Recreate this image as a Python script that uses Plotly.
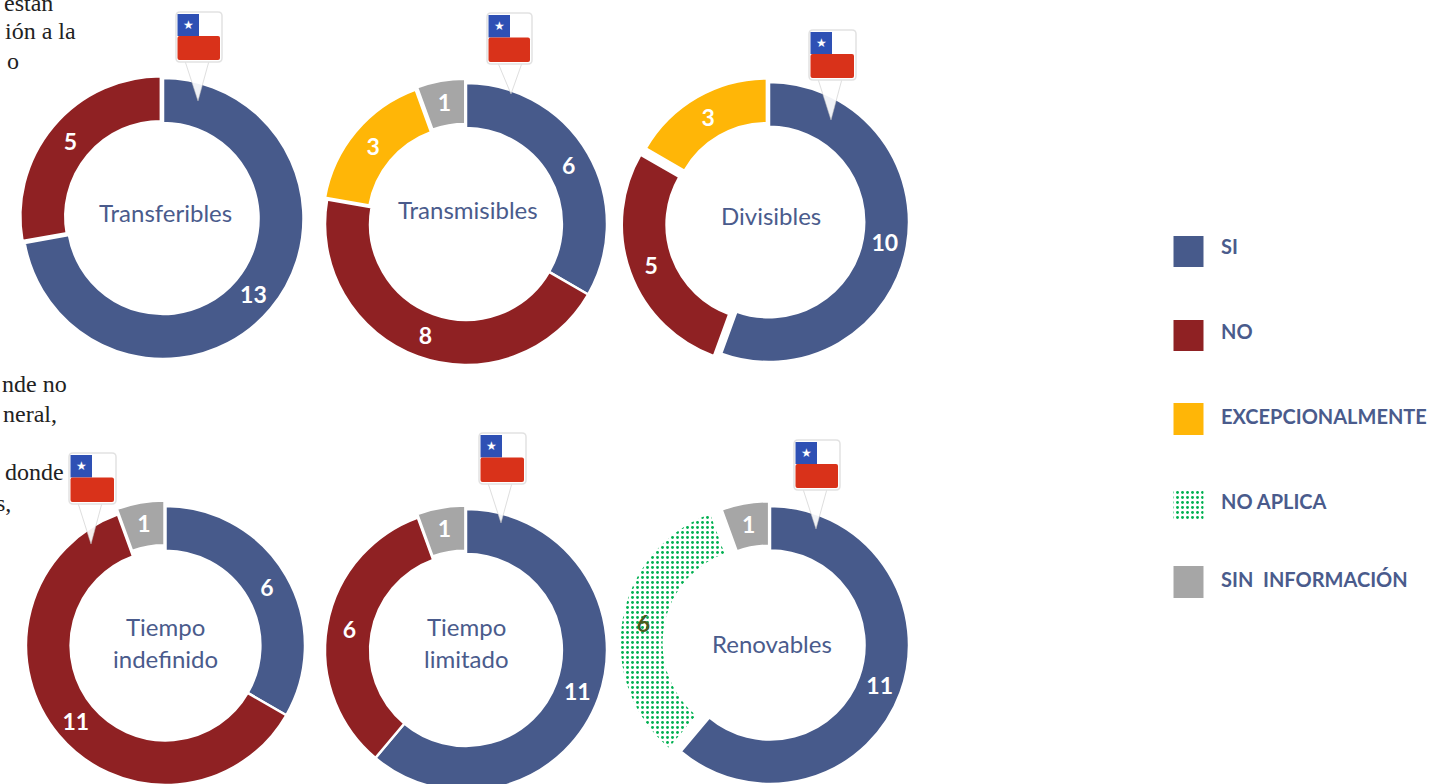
import plotly.graph_objects as go

W, H = 1432, 800  # the page shows the top 784 px; the bottom donut runs past the edge

categories = ["SI", "NO", "EXCEPCIONALMENTE", "NO APLICA", "SIN INFORMACIÓN"]
colors = ["#475A8B", "#8F2123", "#FFB607", "#FFFFFF", "#A6A6A6"]
text_colors = ["#FFFFFF", "#FFFFFF", "#FFFFFF", "#4A5A1E", "#FFFFFF"]

transferibles = [13, 5, 0, 0, 0]
transmisibles = [6, 8, 3, 0, 1]
divisibles = [10, 5, 3, 0, 0]
tiempo_indefinido = [6, 11, 0, 0, 1]
tiempo_limitado = [11, 6, 0, 0, 1]
renovables = [11, 0, 0, 6, 1]

# title lines, title centre x, title y of each line, values, centre x, centre y, radius, pulls
donuts = [
    (["Transferibles"], 165, [212], transferibles, 163, 218.5, 140.5, [0, .02, 0, 0, 0]),
    (["Transmisibles"], 468, [210], transmisibles, 466, 224, 141, [0, 0, .02, 0, .03]),
    (["Divisibles"], 771, [215], divisibles, 769, 222, 140, [0, .055, .03, 0, 0]),
    (["Tiempo", "indefinido"], 165, [626, 658], tiempo_indefinido, 165.5, 645.5, 139.5, [0, 0, 0, 0, .04]),
    (["Tiempo", "limitado"], 466, [626, 658], tiempo_limitado, 466, 650, 141, [0, 0, 0, 0, .025]),
    (["Renovables"], 772, [643], renovables, 770, 645, 139, [0, 0, 0, .085, .035]),
]
# flag box left, top, right, bottom, pointer tip x, tip y
flags = [
    (176, 12, 222, 62, 198, 101),
    (487, 13, 532, 64, 511, 94),
    (809, 30, 856, 80, 831, 120),
    (69, 453, 116, 504, 91, 544),
    (479, 433, 526, 484, 501, 523),
    (794, 440, 840, 490, 816, 529),
]
legend_tops = [236, 320, 403, 489, 566]
legend_bottoms = [267, 351, 435, 521, 598]
legend_text_y = [246, 331, 416, 501, 579]
body_lines = [
    ("estan", 55, 3), ("ión a la", 78, 31), ("o", 21, 61),
    ("nde no", 69, 384), ("neral,", 59, 414), ("donde", 66, 472), ("s,", 13, 503),
]

BLUE_TEXT = "#4A5B8C"
FONT = "Lato"
GREEN = "#00B050"


def px(x):
    return x / W


def py(y):
    return 1 - y / H


fig = go.Figure()

for title, tx_c, title_ys, values, cx, cy, r, pulls in donuts:
    idx = [i for i, v in enumerate(values) if v > 0]
    max_pull = max(pulls[i] for i in idx)
    R = r * (1 + max_pull)
    fig.add_trace(go.Pie(
        labels=[categories[i] for i in idx],
        values=[values[i] for i in idx],
        hole=0.68,
        sort=False,
        direction="clockwise",
        rotation=0,
        pull=[pulls[i] for i in idx],
        domain=dict(x=[px(cx - R), px(cx + R)], y=[py(cy + R), py(cy - R)]),
        marker=dict(
            colors=[colors[i] for i in idx],
            line=dict(color="#FFFFFF", width=2.5),
            pattern=dict(
                shape=["." if categories[i] == "NO APLICA" else "" for i in idx],
                fgcolor=GREEN, bgcolor="#FFFFFF", size=5, solidity=0.26,
            ),
        ),
        textinfo="value",
        textposition="inside",
        insidetextorientation="horizontal",
        textfont=dict(family=FONT, size=23, weight="bold",
                      color=[text_colors[i] for i in idx]),
        showlegend=False,
    ))
    for line, ty in zip(title, title_ys):
        fig.add_annotation(
            x=px(tx_c), y=py(ty), xref="paper", yref="paper",
            text=line, showarrow=False, xanchor="center", yanchor="middle",
            font=dict(family=FONT, size=24, color=BLUE_TEXT),
        )

# legend swatches: drawn as bars so the dotted fill is available
solid = [i for i, c in enumerate(categories) if c != "NO APLICA"]
dotted = [i for i, c in enumerate(categories) if c == "NO APLICA"]
fig.add_trace(go.Bar(
    x=[1188.5] * len(solid),
    y=[legend_bottoms[i] - legend_tops[i] for i in solid],
    base=[legend_tops[i] for i in solid],
    width=[30] * len(solid),
    marker=dict(color=[colors[i] for i in solid], line=dict(width=0)),
    showlegend=False, hoverinfo="skip",
))
fig.add_trace(go.Bar(
    x=[1188.5] * len(dotted),
    y=[legend_bottoms[i] - legend_tops[i] for i in dotted],
    base=[legend_tops[i] for i in dotted],
    width=[30] * len(dotted),
    marker=dict(
        color=GREEN, line=dict(width=0),
        pattern=dict(shape=".", fillmode="replace", fgcolor=GREEN, bgcolor="#FFFFFF",
                     size=5, solidity=0.26, fgopacity=1),
    ),
    showlegend=False, hoverinfo="skip",
))
for name, y in zip(categories, legend_text_y):
    fig.add_annotation(
        x=px(1219), y=py(y), xref="paper", yref="paper",
        text=name.replace(" INF", "  INF"), showarrow=False, xanchor="left", yanchor="middle",
        font=dict(family=FONT, size=20, weight="bold", color=BLUE_TEXT),
    )

for text, right, y in body_lines:
    fig.add_annotation(
        x=px(right), y=py(y), xref="paper", yref="paper",
        text=text, showarrow=False, xanchor="right", yanchor="middle",
        font=dict(family="Liberation Serif", size=24, color="#222222"),
    )

shapes = []


def rounded(x0, y0, x1, y1, rad):
    return (f"M{x0 + rad},{y0} L{x1 - rad},{y0} Q{x1},{y0} {x1},{y0 + rad} "
            f"L{x1},{y1 - rad} Q{x1},{y1} {x1 - rad},{y1} L{x0 + rad},{y1} "
            f"Q{x0},{y1} {x0},{y1 - rad} L{x0},{y0 + rad} Q{x0},{y0} {x0 + rad},{y0} Z")


for x0, y0, x1, y1, tx, ty in flags:
    base = dict(xref="x", yref="y", layer="above")
    # pointer
    shapes.append(dict(type="path", path=f"M{tx - 13},{y1 - 1} L{tx},{ty} L{tx + 11},{y1 - 1} Z",
                       fillcolor="rgba(255,255,255,0.92)",
                       line=dict(color="rgba(190,190,190,0.5)", width=1), **base))
    # card with soft edge
    shapes.append(dict(type="path", path=rounded(x0, y0, x1, y1, 4), fillcolor="#FFFFFF",
                       line=dict(color="#E2E2E2", width=1.5), **base))
    mid = y0 + (y1 - y0) * 0.5
    ix0, ix1 = x0 + 1.5, x1 - 2
    # white field, blue canton, red band
    shapes.append(dict(type="rect", x0=ix0, x1=x0 + 23, y0=y0 + 2, y1=mid - 1,
                       fillcolor="#2E50B4", line=dict(width=0), **base))
    shapes.append(dict(type="path", path=rounded(ix0, mid - 1, ix1, y1 - 2, 2),
                       fillcolor="#D9321A", line=dict(width=0), **base))
    fig.add_annotation(
        x=px((ix0 + x0 + 23) / 2), y=py((y0 + 2 + mid - 1) / 2), xref="paper", yref="paper",
        text="★", showarrow=False, xanchor="center", yanchor="middle",
        font=dict(family="DejaVu Sans", size=12, color="#FFFFFF"),
    )

fig.update_layout(
    width=W, height=H,
    margin=dict(l=0, r=0, t=0, b=0),
    barmode="overlay",
    paper_bgcolor="#FFFFFF", plot_bgcolor="rgba(0,0,0,0)",
    xaxis=dict(range=[0, W], visible=False, fixedrange=True, domain=[0, 1]),
    yaxis=dict(range=[H, 0], visible=False, fixedrange=True, domain=[0, 1]),
    shapes=shapes,
    showlegend=False,
)

fig.write_html(
    "out.html",
    config=dict(displayModeBar=False),
    post_script="document.body.style.margin='0';document.body.style.overflow='hidden';"
                "document.documentElement.style.overflow='hidden';",
)
